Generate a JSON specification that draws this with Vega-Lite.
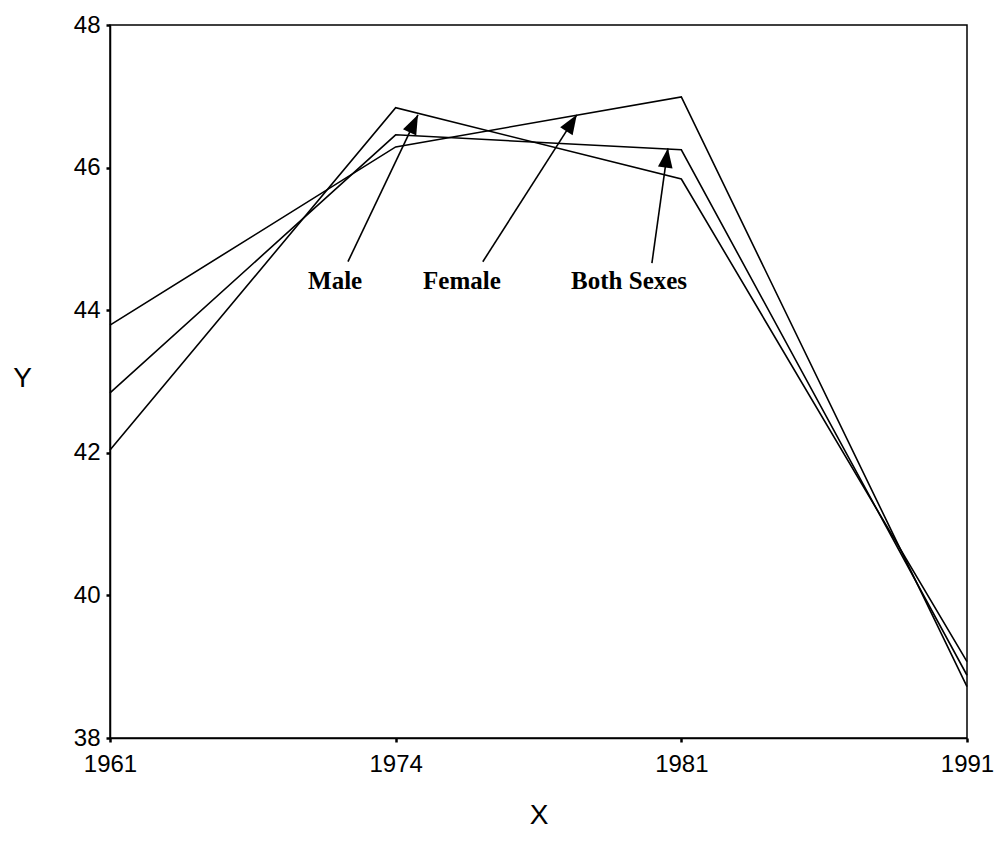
{
  "$schema": "https://vega.github.io/schema/vega-lite/v6.json",
  "width": 857,
  "height": 713,
  "autosize": {"type": "none"},
  "padding": {"left": 110, "top": 25, "right": 34, "bottom": 119},
  "background": "white",
  "config": {
    "view": {"stroke": "black", "strokeWidth": 1.5},
    "axis": {
      "grid": false,
      "domainColor": "black",
      "domainWidth": 1.5,
      "tickColor": "black",
      "tickSize": 4,
      "tickWidth": 2.5,
      "labelFont": "Liberation Sans",
      "labelFontSize": 24,
      "labelColor": "black",
      "titleFont": "Liberation Sans",
      "titleFontSize": 28,
      "titleFontWeight": "normal",
      "titleColor": "black"
    }
  },
  "datasets": {
    "series": [
      {"sex": "Male", "year": "1961", "y": 42.04},
      {"sex": "Male", "year": "1974", "y": 46.84},
      {"sex": "Male", "year": "1981", "y": 45.84},
      {"sex": "Male", "year": "1991", "y": 39.07},
      {"sex": "Female", "year": "1961", "y": 43.79},
      {"sex": "Female", "year": "1974", "y": 46.29},
      {"sex": "Female", "year": "1981", "y": 46.99},
      {"sex": "Female", "year": "1991", "y": 38.72},
      {"sex": "Both Sexes", "year": "1961", "y": 42.84},
      {"sex": "Both Sexes", "year": "1974", "y": 46.46},
      {"sex": "Both Sexes", "year": "1981", "y": 46.25},
      {"sex": "Both Sexes", "year": "1991", "y": 38.88}
    ],
    "annotations": [
      {"label": "Male", "lx": 0.788, "ly": 44.3, "tx": 0.833, "ty": 44.68, "hx": 1.078, "hy": 46.74, "angle": 25.5},
      {"label": "Female", "lx": 1.232, "ly": 44.3, "tx": 1.305, "ty": 44.68, "hx": 1.634, "hy": 46.74, "angle": 32.4},
      {"label": "Both Sexes", "lx": 1.817, "ly": 44.3, "tx": 1.897, "ty": 44.66, "hx": 1.953, "hy": 46.27, "angle": 7.9}
    ]
  },
  "layer": [
    {
      "data": {"name": "series"},
      "mark": {"type": "line", "color": "black", "strokeWidth": 1.6},
      "encoding": {
        "x": {
          "field": "year",
          "type": "ordinal",
          "sort": null,
          "scale": {"type": "point", "padding": 0},
          "axis": {"title": "X", "labelAngle": 0, "labelPadding": 10, "labelFontSize": 24, "labelFont": "Liberation Sans", "titleFontSize": 28, "titleY": 77, "titleBaseline": "middle"}
        },
        "y": {
          "field": "y",
          "type": "quantitative",
          "scale": {"domain": [38, 48], "nice": false, "zero": false},
          "axis": {
            "title": "Y",
            "values": [38, 40, 42, 44, 46, 48],
            "format": "d",
            "labelPadding": 6,
            "labelFontSize": 24,
            "labelFont": "Liberation Sans",
            "titleFontSize": 28,
            "titleAngle": 0,
            "titleX": -88,
            "titleY": 353,
            "titleAlign": "center",
            "titleBaseline": "middle"
          }
        },
        "detail": {"field": "sex"}
      }
    },
    {
      "data": {"name": "annotations"},
      "layer": [
        {
          "mark": {"type": "rule", "color": "black", "strokeWidth": 1.6},
          "encoding": {
            "x": {"field": "tx", "type": "quantitative", "scale": {"domain": [0, 3], "nice": false, "zero": false}, "axis": null},
            "y": {"field": "ty", "type": "quantitative", "axis": {"title": "Y", "format": "d"}},
            "x2": {"field": "hx"},
            "y2": {"field": "hy"}
          }
        },
        {
          "mark": {"type": "point", "shape": "M0,0L0.38,1L-0.38,1Z", "filled": true, "color": "black", "opacity": 1, "size": 1500, "strokeWidth": 0},
          "encoding": {
            "x": {"field": "hx", "type": "quantitative", "scale": {"domain": [0, 3], "nice": false, "zero": false}, "axis": null},
            "y": {"field": "hy", "type": "quantitative", "axis": {"title": "Y", "format": "d"}},
            "angle": {"field": "angle", "type": "quantitative", "scale": null}
          }
        },
        {
          "mark": {"type": "text", "font": "Liberation Serif", "fontWeight": "bold", "fontSize": 25, "color": "black", "align": "center", "baseline": "alphabetic"},
          "encoding": {
            "x": {"field": "lx", "type": "quantitative", "scale": {"domain": [0, 3], "nice": false, "zero": false}, "axis": null},
            "y": {"field": "ly", "type": "quantitative", "axis": {"title": "Y", "format": "d"}},
            "text": {"field": "label"}
          }
        }
      ]
    }
  ],
  "resolve": {"scale": {"x": "independent"}}
}
